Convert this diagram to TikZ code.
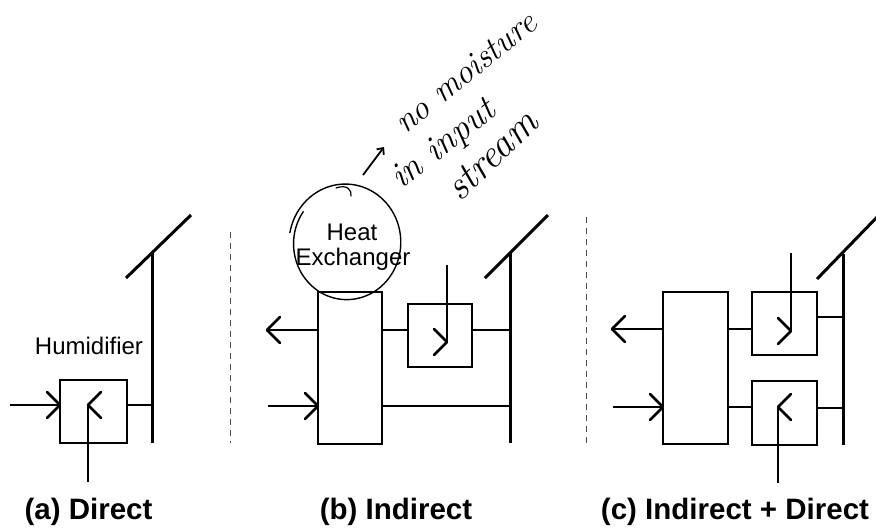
\documentclass[tikz,border=0pt]{standalone}
\usepackage{fontspec}
\newfontfamily\arialf{Liberation Sans}
\usetikzlibrary{arrows.meta,calc}
\begin{document}
\begin{tikzpicture}[x=1pt,y=-1pt,
  box/.style={draw, line width=2pt, inner sep=0pt, outer sep=0pt},
  ln/.style={line width=2pt},
  thick bar/.style={line width=3pt},
  lbl/.style={font=\arialf\fontsize{24}{26}\selectfont, inner sep=0pt},
  captxt/.style={font=\arialf\bfseries\fontsize{29.5}{32}\selectfont, inner sep=0pt},
  hand/.style={inner sep=0pt, anchor=base west},
  chevL/.pic={\draw[line width=2.6pt, line join=round, line cap=round] (13,-13) -- (0,0) -- (13,13);},
  chevR/.pic={\draw[line width=2.6pt, line join=round, line cap=round] (-13,-13) -- (0,0) -- (-13,13);},
  sep/.style={line width=0.8pt, dash pattern=on 6pt off 5pt, black!70}]
\useasboundingbox (0,0) rectangle (876,531);
\clip (0,0) rectangle (876,531);
\fill[white] (0,0) rectangle (876,531);

% ---------------- (a) Direct ----------------
\node[box, minimum width=67pt, minimum height=63pt] (hum) at (93.5,411.5) {};
\coordinate (ain) at (10,405);
\coordinate (ahb) at (88,482);
\coordinate (abt) at (152,253);
\coordinate (abb) at (152,443);
\coordinate (ad1) at (126,278);
\coordinate (ad2) at (191,215);
\draw[ln] (ain) -- (ain -| hum.west);
\pic at (ain -| hum.west) {chevR};
\draw[ln] (ahb) -- (ahb |- ain);
\pic at (ahb |- ain) {chevL};
\draw[ln] (hum.east |- ain) -- (abt |- ain);
\draw[thick bar] (abt) -- (abb);
\draw[thick bar] (ad1) -- (ad2);
\node[lbl, anchor=base] (humt) at (89,354) {Humidifier};
\node[captxt, anchor=base] (capa) at (88.5,519) {(a) Direct};
\coordinate (s1t) at (230,232);
\coordinate (s1b) at (230,443);
\draw[sep] (s1t) -- (s1b);

% ---------------- (b) Indirect ----------------
\node[box, minimum width=64pt, minimum height=152pt] (hxb) at (350,368) {};
\node[box, minimum width=64pt, minimum height=63pt] (smb) at (440,335.5) {};
\coordinate (bout) at (267,330);
\coordinate (bin) at (268,406);
\coordinate (bst) at (447,265);
\coordinate (bst2) at (447,342);
\coordinate (bbt) at (510,253);
\coordinate (bbb) at (510,443);
\coordinate (bd1) at (485,278);
\coordinate (bd2) at (548,215);
\draw[ln] (hxb.west |- bout) -- (bout);
\pic at (bout) {chevL};
\draw[ln] (bin) -- (bin -| hxb.west);
\pic at (bin -| hxb.west) {chevR};
\draw[ln] (hxb.east |- bout) -- (smb.west |- bout);
\draw[ln] (bst) -- (bst2);
\pic at (bst2) {chevR};
\draw[ln] (smb.east |- bout) -- (bbt |- bout);
\draw[ln] (hxb.east |- bin) -- (bbt |- bin);
\draw[thick bar] (bbt) -- (bbb);
\draw[thick bar] (bd1) -- (bd2);
\node[lbl, anchor=base] (hx1) at (352,240) {Heat};
\node[lbl, anchor=base] (hx2) at (353,265) {Exchanger};
\node[captxt, anchor=base] (capb) at (396,519) {(b) Indirect};
\coordinate (s2t) at (586,217);
\coordinate (s2b) at (586,443);
\draw[sep] (s2t) -- (s2b);

% hand-drawn circle and note
\draw[line width=1.4pt, line cap=round]
  plot[smooth, domain=0:1, samples=60, variable=\s]
  ({346+(57-5*\s)*cos(170-385*\s)}, {243-(60-5*\s)*sin(170-385*\s)});
\draw[line width=1.2pt, line cap=round] (336,188) .. controls (347,184) and (352,190) .. (351,196);
\coordinate (nt1) at (363,175);
\coordinate (nt2) at (384,147);
\draw[line width=1.8pt, -{Straight Barb[length=5pt,width=9pt]}] (nt1) -- (nt2);
\node[hand, rotate=39, font=\itshape\fontsize{34}{36}\selectfont\addfontfeature{LetterSpace=3}] (n1) at (405,135) {no moisture};
\node[hand, rotate=38, font=\itshape\fontsize{36}{38}\selectfont\addfontfeature{LetterSpace=10}] (n2) at (401,190) {in input};
\node[hand, rotate=44, font=\itshape\fontsize{40}{42}\selectfont\addfontfeature{LetterSpace=10}] (n3) at (460,203) {stream};

% ---------------- (c) Indirect + Direct ----------------
\node[box, minimum width=65pt, minimum height=152pt] (hxc) at (695.5,368) {};
\node[box, minimum width=65pt, minimum height=63pt] (upc) at (784.5,323.5) {};
\node[box, minimum width=65pt, minimum height=64pt] (loc) at (784.5,413) {};
\coordinate (cout) at (612,329);
\coordinate (cin) at (613,407);
\coordinate (cut) at (791,253);
\coordinate (cut2) at (791,331);
\coordinate (clb) at (778,483);
\coordinate (cbt) at (843,254);
\coordinate (cbb) at (843,445);
\coordinate (cd1) at (817,279);
\coordinate (cd2) at (880,214);
\coordinate (cur) at (843,317);
\coordinate (clr) at (843,408);
\draw[ln] (hxc.west |- cout) -- (cout);
\pic at (cout) {chevL};
\draw[ln] (cin) -- (cin -| hxc.west);
\pic at (cin -| hxc.west) {chevR};
\draw[ln] (hxc.east |- cout) -- (upc.west |- cout);
\draw[ln] (hxc.east |- cin) -- (loc.west |- cin);
\draw[ln] (cut) -- (cut2);
\pic at (cut2) {chevR};
\draw[ln] (clb) -- (clb |- cin);
\pic at (clb |- cin) {chevL};
\draw[ln] (upc.east |- cur) -- (cur);
\draw[ln] (loc.east |- clr) -- (clr);
\draw[thick bar] (cbt) -- (cbb);
\draw[thick bar] (cd1) -- (cd2);
\node[captxt, anchor=base] (capc) at (735,519) {(c) Indirect + Direct};
\end{tikzpicture}
\end{document}
